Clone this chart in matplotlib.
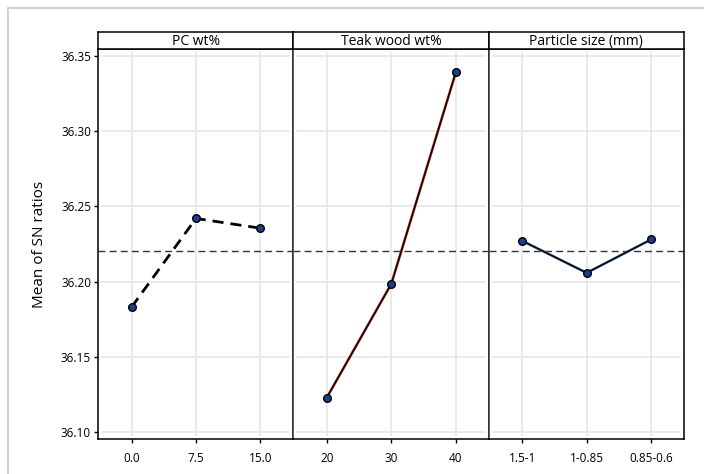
import matplotlib.pyplot as plt
from matplotlib.patches import Rectangle

plt.rcParams['font.family'] = ['Open Sans', 'DejaVu Sans']

# Main effects of SN ratios
panel_titles = ['PC wt%', 'Teak wood wt%', 'Particle size (mm)']
pc_levels = ['0.0', '7.5', '15.0']
pc_sn = [36.183, 36.242, 36.2355]
teak_levels = ['20', '30', '40']
teak_sn = [36.1229, 36.1985, 36.3391]
size_levels = ['1.5-1', '1-0.85', '0.85-0.6']
size_sn = [36.2271, 36.2058, 36.228]
y_ticks = [36.10, 36.15, 36.20, 36.25, 36.30, 36.35]

levels = [pc_levels, teak_levels, size_levels]
values = [pc_sn, teak_sn, size_sn]
grand_mean = sum(pc_sn + teak_sn + size_sn) / 9

fig = plt.figure(figsize=(7.04, 4.74), dpi=100)
fig.patches.append(Rectangle((8 / 704, -0.1), 1.2, 1 - 8 / 474 + 0.1,
                             transform=fig.transFigure, fill=False,
                             edgecolor='#c8c8c8', linewidth=1.2))

left, right = 98 / 704, 684 / 704
bottom, top = 1 - 439 / 474, 1 - 49 / 474
strip_h = 17 / 474
w = (right - left) / 3

for i in range(3):
    ax = fig.add_axes([left + i * w, bottom, w, top - bottom])
    x = list(range(3))
    ax.set_xlim(-0.52, 2.51)
    ax.set_ylim(36.0953, 36.3547)

    for yt in y_ticks:
        ax.axhline(yt, xmin=0.02, xmax=0.98, color='#e6e6e6', lw=1.2, zorder=0)
    for xt in x:
        ax.axvline(xt, ymin=0.01, ymax=0.99, color='#e6e6e6', lw=1.2, zorder=0)

    ax.axhline(grand_mean, color='#333333', lw=1.0, ls=(0, (5, 3)), zorder=1)

    if i == 0:
        ax.plot(x, values[i], color='black', lw=2, ls=(0, (4, 2.5)), zorder=2)
    elif i == 1:
        ax.plot(x, values[i], color='#d04a40', lw=1.9, zorder=2)
        ax.plot(x, values[i], color='#140404', lw=1.2, zorder=3)
    else:
        ax.plot(x, values[i], color='#6a96c8', lw=1.9, zorder=2)
        ax.plot(x, values[i], color='#080c14', lw=1.3, zorder=3)
    ax.plot(x, values[i], 'o', ms=5.5, mfc='#1c3f8c', mec='black', mew=1, zorder=4)

    ax.set_xticks(x)
    ax.set_xticklabels(levels[i], fontsize=8.5, fontweight='medium')
    ax.tick_params(axis='x', length=3, width=1, pad=6, colors='black')
    if i == 0:
        ax.set_yticks(y_ticks)
        ax.set_yticklabels([f'{v:.2f}' for v in y_ticks], fontsize=8.5,
                           fontweight='medium')
        ax.tick_params(axis='y', length=3, width=1, pad=2)
        ax.set_ylabel('Mean of SN ratios', fontsize=11, labelpad=10)
    else:
        ax.set_yticks([])
    for s in ['top', 'bottom', 'left', 'right']:
        ax.spines[s].set_linewidth(1.1)
        ax.spines[s].set_color('black')
    if i > 0:
        ax.spines['left'].set_color('#333333')

    sax = fig.add_axes([left + i * w, top, w, strip_h])
    sax.set_xticks([])
    sax.set_yticks([])
    for s in sax.spines.values():
        s.set_linewidth(1.1)
    sax.text(0.5, 0.42, panel_titles[i], ha='center', va='center', fontsize=10,
             transform=sax.transAxes)

fig.savefig('out.png', dpi=100)
